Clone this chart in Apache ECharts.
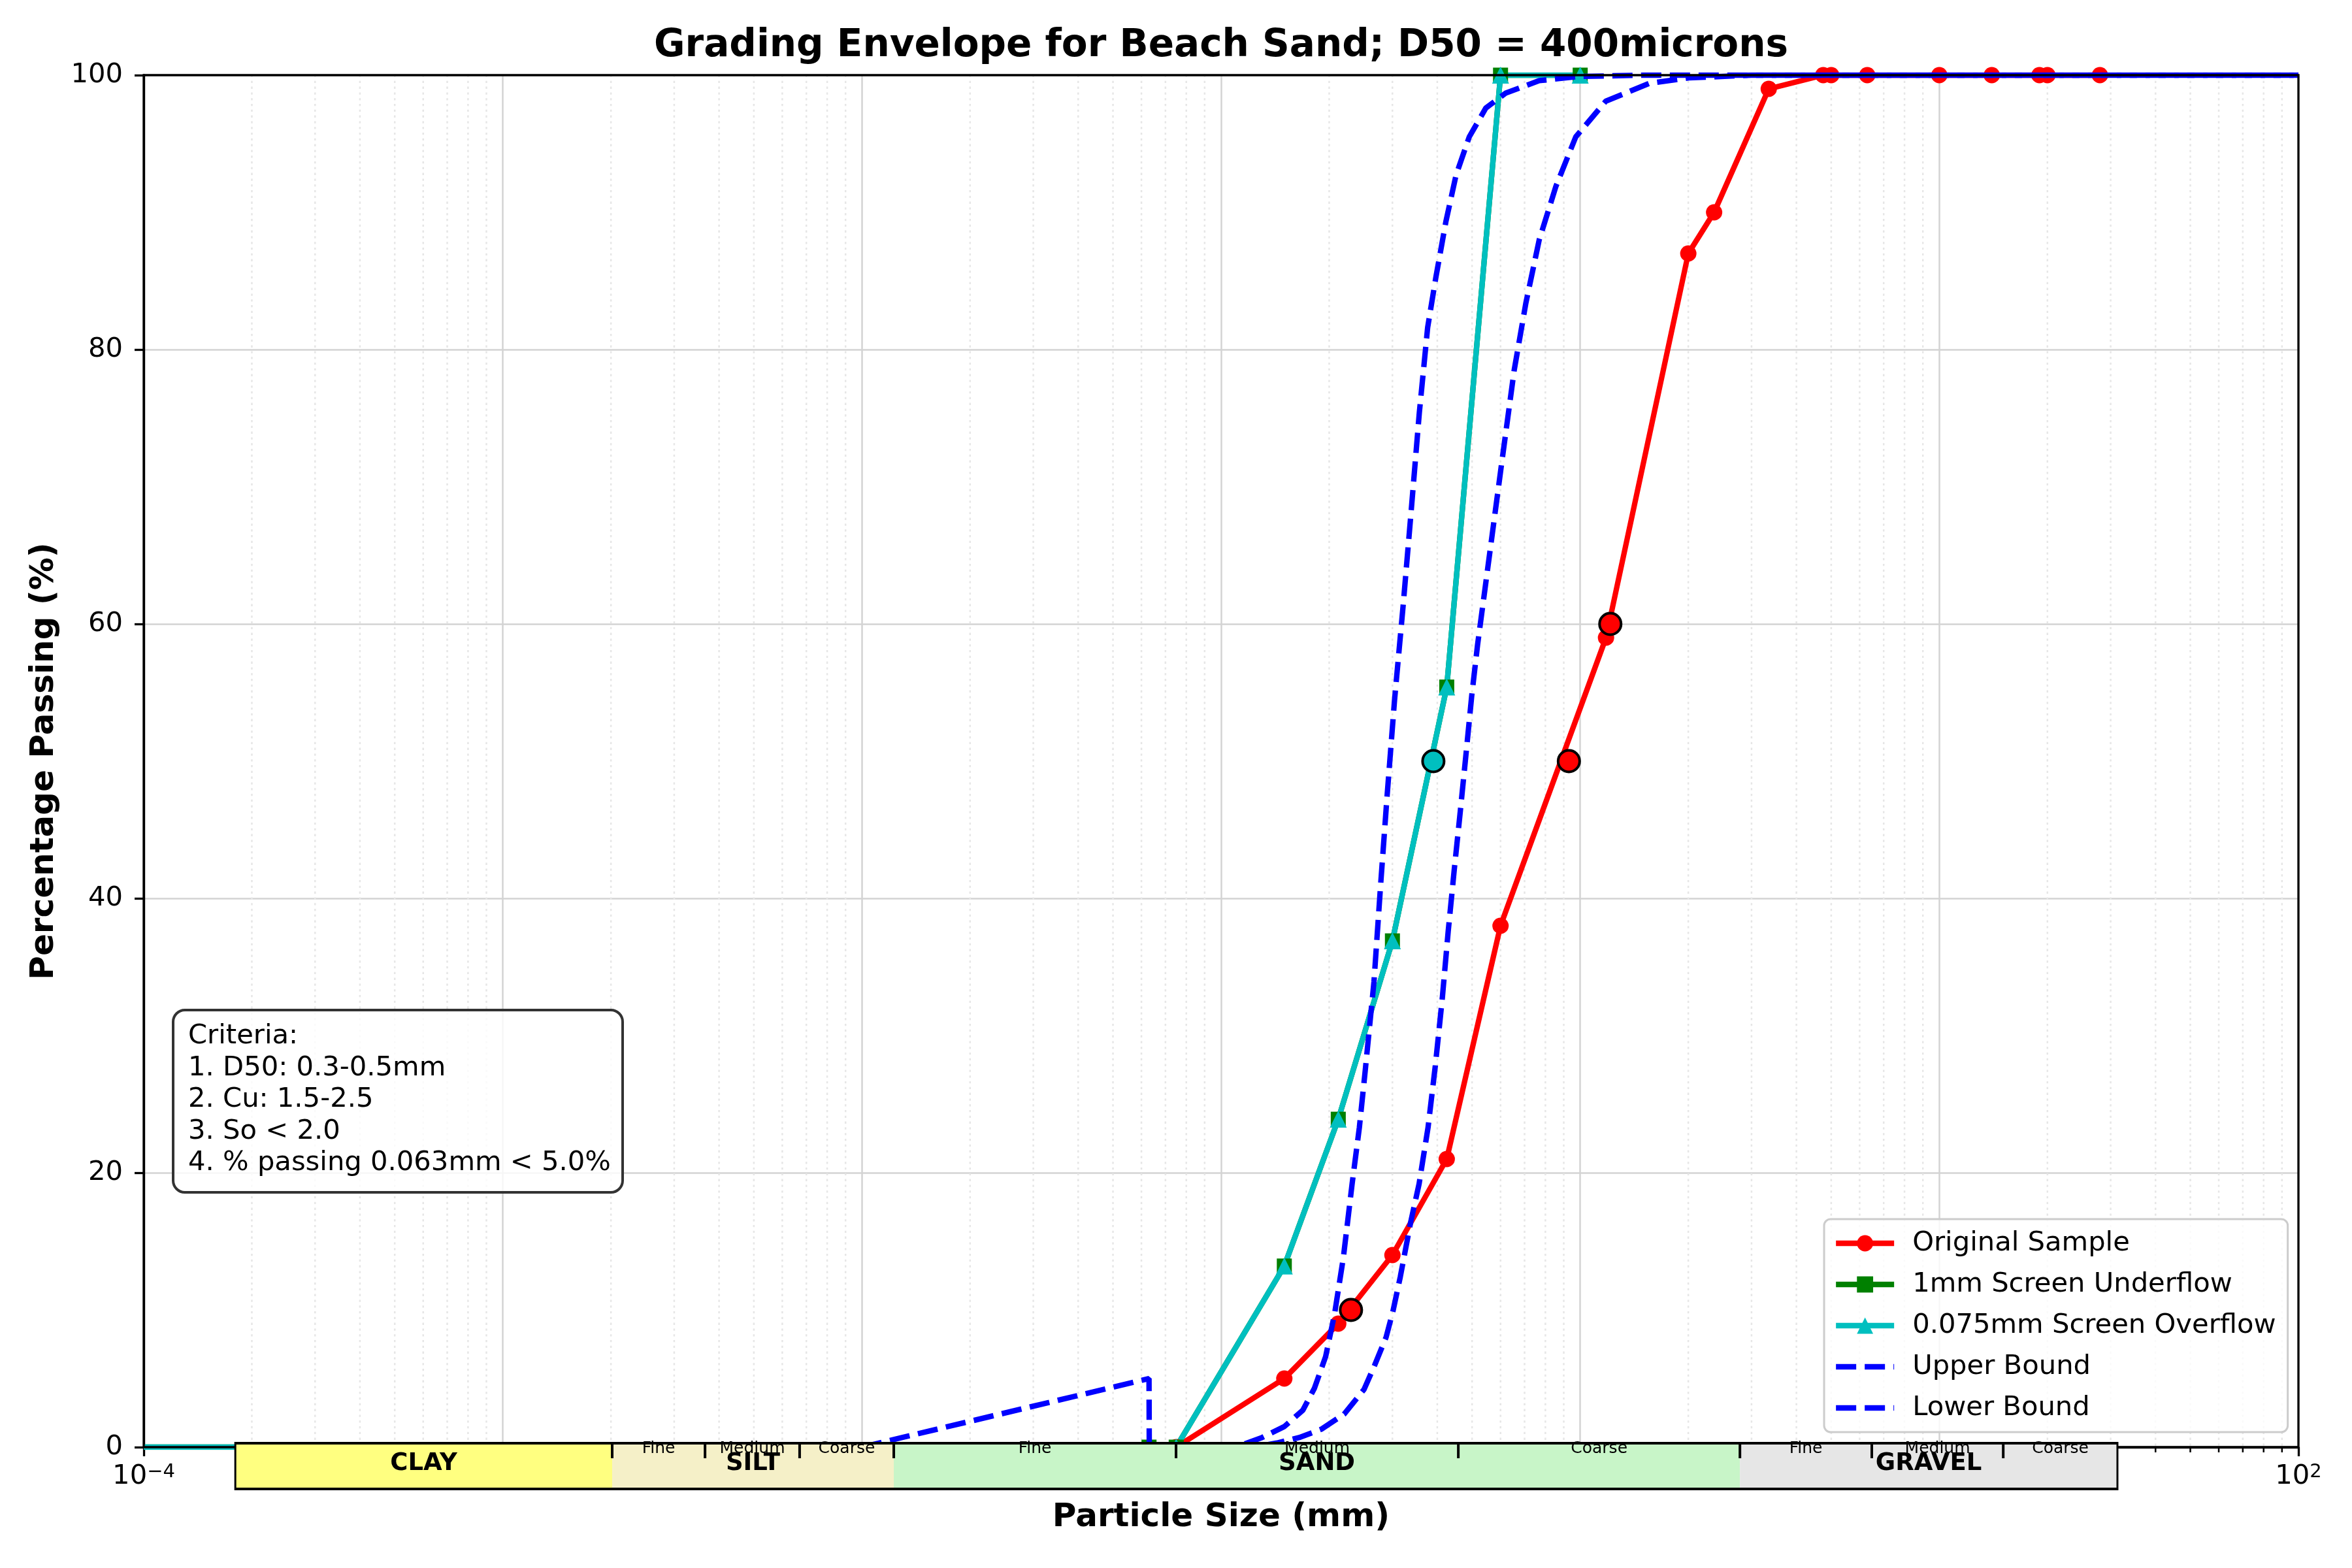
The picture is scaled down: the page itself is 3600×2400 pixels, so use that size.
<!DOCTYPE html>
<html>
<head>
<meta charset="utf-8">
<title>Grading Envelope for Beach Sand</title>
<script src="https://cdn.jsdelivr.net/npm/echarts@6/dist/echarts.min.js"></script>
<style>
  html, body { margin: 0; padding: 0; background: #fff; }
  #chart { width: 3600px; height: 2400px; }
</style>
</head>
<body>
<div id="chart"></div>
<script>
// sieve analysis of the original sample (mm, % passing)
var sieveSizes = [0.075, 0.15, 0.212, 0.3, 0.425, 0.6, 1.18, 2.0, 2.36, 3.35, 4.75, 5.0, 6.3, 10, 14, 19, 20, 28];
var originalPassing = [0, 5, 9, 14, 21, 38, 59, 87, 90, 99, 100, 100, 100, 100, 100, 100, 100, 100];

// screened products
var screenSizes = [0.0001, 0.063, 0.075, 0.15, 0.212, 0.3, 0.425, 0.6, 1.0];
var underflowPassing = [0, 0, 0, 13.2, 23.9, 36.9, 55.4, 100, 100];
var overflowPassing = [0, 0, 0, 13.2, 23.9, 36.9, 55.4, 100, 100];

// envelope
var upperSizes = [0.01, 0.063, 0.0631, 0.11, 0.13, 0.15, 0.169, 0.182, 0.1955, 0.207, 0.219, 0.2317, 0.2427, 0.2519, 0.2665, 0.278,
  0.2898, 0.304, 0.3215, 0.338, 0.3565, 0.376, 0.396, 0.4225, 0.451, 0.491, 0.546, 0.621, 0.769, 0.993, 1.5, 100];
var upperPassing = [0, 5, 0, 0, 0.7, 1.5, 2.7, 4.3, 6.6, 9.7, 13.8, 19.2, 23.3, 27.4, 33.9, 40.9,
  47.4, 54.4, 61.4, 68.1, 75.4, 81.6, 85.2, 89.3, 92.7, 95.5, 97.6, 98.7, 99.6, 99.9, 100, 100];
var lowerSizes = [0.11, 0.13, 0.143, 0.165, 0.19, 0.22, 0.25, 0.267, 0.288, 0.301, 0.3155, 0.3367, 0.356, 0.377, 0.395, 0.413, 0.429,
  0.446, 0.463, 0.48, 0.499, 0.518, 0.605, 0.655, 0.706, 0.769, 0.856, 0.972, 1.178, 1.556, 2.01, 3, 100];
var lowerPassing = [0, 0.1, 0.3, 0.7, 1.3, 2.4, 4.2, 5.9, 8.0, 9.9, 12.4, 16.3, 19.2, 23.3, 27.8, 32.7, 37.6,
  42.1, 46.2, 50.3, 54.8, 58.5, 71.8, 78.5, 83.4, 88.0, 91.9, 95.5, 98.1, 99.4, 99.8, 100, 100];

// D10 / D50 / D60 of the original, D50 of the overflow
var originalDSizes = [0.23, 0.93, 1.213];
var originalDValues = [10, 50, 60];
var overflowDSizes = [0.39];
var overflowDValues = [50];

// axis ticks
var xEndLabels = { '-4': '10{s|\u22124}', '2': '10{s|2}' };
var minorMantissas = [2, 3, 4, 5, 6, 7, 8, 9];
var minorDecades = [0.0001, 0.001, 0.01, 0.1, 1, 10];

var criteriaLines = ['Criteria:', '1. D50: 0.3-0.5mm', '2. Cu: 1.5-2.5', '3. So < 2.0', '4. % passing 0.063mm < 5.0%'];

// soil classification strip, as fractions of the plot width
var soilNames = ['CLAY', 'SILT', 'SAND', 'GRAVEL'];
var soilColors = ['#ffff80', '#f5f0c8', '#c8f5c8', '#e6e6e6'];
var soilEdges = [0.0425, 0.2174, 0.3481, 0.7408, 0.916];
var soilSubEdges = [[], [0.2605, 0.3044], [0.4791, 0.6101], [0.802, 0.863]];
var subNames = ['Fine', 'Medium', 'Coarse'];

var FONT = 'DejaVu Sans';
var GL = 220, GT = 115, GW = 3298, GH = 2100;
var GB = GT + GH;
var DASH = [31, 13];

function pairs(xs, ys) {
  return xs.map(function (x, i) {
    if (x < 0.001) return { value: [x, ys[i]], symbol: 'none' };
    return [x, ys[i]];
  });
}

var minorData = [];
minorDecades.forEach(function (d) {
  minorMantissas.forEach(function (m) { minorData.push([m * d, 0]); });
});

function lineSeries(name, xs, ys, color, symbol, size) {
  return {
    name: name, type: 'line', data: pairs(xs, ys), z: 3,
    symbol: symbol, symbolSize: size, showAllSymbol: true,
    lineStyle: { color: color, width: 8.3 },
    itemStyle: { color: color }
  };
}

function boundSeries(name, xs, ys) {
  return {
    name: name, type: 'line', data: pairs(xs, ys), z: 4, symbol: 'none',
    lineStyle: { color: '#0000ff', width: 8.3, type: DASH, cap: 'butt' },
    itemStyle: { color: '#0000ff' }
  };
}

// soil strip + criteria box + title as graphic elements
var graphic = [];
var stripTop = GB - 8, stripBot = GB + 66;
var sx0 = GL + soilEdges[0] * GW, sx1 = GL + soilEdges[4] * GW;

// frame of the axes (spines drawn above the lines, like matplotlib)
graphic.push({ type: 'rect', z: 90, silent: true, shape: { x: GL, y: GT, width: GW, height: GH },
  style: { fill: null, stroke: '#000', lineWidth: 3.3 } });

soilNames.forEach(function (name, i) {
  var x0 = GL + soilEdges[i] * GW, x1 = GL + soilEdges[i + 1] * GW;
  graphic.push({ type: 'rect', z: 100, shape: { x: x0, y: stripTop, width: x1 - x0, height: stripBot - stripTop },
    style: { fill: soilColors[i] } });
  graphic.push({ type: 'text', z: 102, x: (x0 + x1) / 2, y: GB + 25,
    style: { text: name, font: 'bold 37px "' + FONT + '"', fill: '#000', align: 'center', verticalAlign: 'middle' } });
  if (soilSubEdges[i].length) {
    var cuts = [x0].concat(soilSubEdges[i].map(function (f) { return GL + f * GW; })).concat([x1]);
    for (var k = 0; k < 3; k++) {
      graphic.push({ type: 'text', z: 102, x: (cuts[k] + cuts[k + 1]) / 2, y: GB + 2,
        style: { text: subNames[k], font: '25px "' + FONT + '"', fill: '#000', align: 'center', verticalAlign: 'middle' } });
    }
    soilSubEdges[i].forEach(function (f) {
      var x = GL + f * GW;
      graphic.push({ type: 'line', z: 101, shape: { x1: x, y1: stripTop, x2: x, y2: stripTop + 25 }, style: { stroke: '#000', lineWidth: 4 } });
    });
  }
  if (i > 0) {
    graphic.push({ type: 'line', z: 101, shape: { x1: x0, y1: stripTop, x2: x0, y2: stripTop + 25 }, style: { stroke: '#000', lineWidth: 4 } });
  }
});
graphic.push({ type: 'line', z: 101, shape: { x1: sx0, y1: stripTop + 2, x2: sx1, y2: stripTop + 2 }, style: { stroke: '#000', lineWidth: 4 } });
graphic.push({ type: 'line', z: 101, shape: { x1: sx0, y1: stripBot - 2, x2: sx1, y2: stripBot - 2 }, style: { stroke: '#000', lineWidth: 4 } });
graphic.push({ type: 'line', z: 101, shape: { x1: sx0, y1: stripTop, x2: sx0, y2: stripBot }, style: { stroke: '#000', lineWidth: 3 } });
graphic.push({ type: 'line', z: 101, shape: { x1: sx1, y1: stripTop, x2: sx1, y2: stripBot }, style: { stroke: '#000', lineWidth: 3 } });

graphic.push({ type: 'rect', z: 50, shape: { x: 265, y: 1546, width: 688, height: 279, r: 18 },
  style: { fill: 'rgba(255,255,255,0.8)', stroke: '#333', lineWidth: 4 } });
graphic.push({ type: 'text', z: 51, x: 288, y: 1562,
  style: { text: criteriaLines.join('\n'), font: '41.7px "' + FONT + '"', lineHeight: 48.5, fill: '#000', verticalAlign: 'top' } });

graphic.push({ type: 'text', z: 51, x: GL + GW / 2, y: 71,
  style: { text: 'Grading Envelope for Beach Sand; D50 = 400microns', font: 'bold 58px "' + FONT + '"', fill: '#000',
    align: 'center', verticalAlign: 'middle' } });

var option = {
  animation: false,
  backgroundColor: '#fff',
  textStyle: { fontFamily: FONT },
  grid: { left: GL, top: GT, width: GW, height: GH },
  legend: {
    data: [
      'Original Sample', '1mm Screen Underflow', '0.075mm Screen Overflow',
      { name: 'Upper Bound', itemStyle: { opacity: 0 }, lineStyle: { type: DASH, width: 8.3, cap: 'butt' } },
      { name: 'Lower Bound', itemStyle: { opacity: 0 }, lineStyle: { type: DASH, width: 8.3, cap: 'butt' } }
    ],
    orient: 'vertical', left: 2792, top: 1866,
    padding: [13, 18, 13, 14], itemWidth: 89, itemHeight: 31, itemGap: 15,
    lineStyle: { width: 8.3 },
    backgroundColor: 'rgba(255,255,255,0.8)', borderColor: '#cccccc', borderWidth: 3, borderRadius: 10,
    textStyle: { fontSize: 41.7, color: '#000', lineHeight: 48, padding: [0, 0, 0, 23] }
  },
  xAxis: {
    type: 'log', logBase: 10, min: 0.0001, max: 100, splitNumber: 6,
    name: 'Particle Size (mm)', nameLocation: 'middle', nameGap: 83,
    nameTextStyle: { fontSize: 50, fontWeight: 'bold', color: '#000' },
    axisLine: { lineStyle: { color: '#000', width: 3.3 } },
    axisTick: { length: 14, lineStyle: { color: '#000', width: 3.3 } },
    axisLabel: {
      margin: 24, fontSize: 41.7, color: '#000', showMinLabel: true, showMaxLabel: true,
      formatter: function (v) {
        return xEndLabels[String(Math.round(Math.log10(v)))] || '';
      },
      rich: { s: { fontSize: 29, verticalAlign: 'top', lineHeight: 30, padding: [0, 0, 18, 0] } }
    },
    splitLine: { show: true, lineStyle: { color: '#d3d3d3', width: 2.5 } }
  },
  yAxis: {
    type: 'value', min: 0, max: 100, interval: 20,
    name: 'Percentage Passing (%)', nameLocation: 'middle', nameGap: 127,
    nameTextStyle: { fontSize: 50, fontWeight: 'bold', color: '#000' },
    axisLine: { show: true, lineStyle: { color: '#000', width: 3.3 } },
    axisTick: { show: true, length: 14, lineStyle: { color: '#000', width: 3.3 } },
    axisLabel: { margin: 32, fontSize: 41.7, color: '#000' },
    splitLine: { show: true, lineStyle: { color: '#d3d3d3', width: 2.5 } }
  },
  graphic: graphic,
  series: [
    {
      type: 'custom', z: 1, silent: true, data: minorData,
      renderItem: function (params, api) {
        var x = api.coord([api.value(0), 0])[0];
        var cs = params.coordSys;
        return {
          type: 'group', children: [
            { type: 'line', shape: { x1: x, y1: cs.y, x2: x, y2: cs.y + cs.height },
              style: { stroke: '#e6e6e6', lineWidth: 2.5, lineDash: [3.3, 5.5] } },
            { type: 'line', shape: { x1: x, y1: cs.y + cs.height, x2: x, y2: cs.y + cs.height + 8 },
              style: { stroke: '#000', lineWidth: 2.5 } }
          ]
        };
      }
    },
    lineSeries('Original Sample', sieveSizes, originalPassing, '#ff0000', 'circle', 25),
    lineSeries('1mm Screen Underflow', screenSizes, underflowPassing, '#008000', 'rect', 23),
    lineSeries('0.075mm Screen Overflow', screenSizes, overflowPassing, '#00bfbf', 'triangle', 26),
    boundSeries('Upper Bound', upperSizes, upperPassing),
    boundSeries('Lower Bound', lowerSizes, lowerPassing),
    {
      type: 'scatter', z: 6, data: pairs(originalDSizes, originalDValues), symbolSize: 33,
      itemStyle: { color: '#ff0000', borderColor: '#000', borderWidth: 4, opacity: 1 }
    },
    {
      type: 'scatter', z: 6, data: pairs(overflowDSizes, overflowDValues), symbolSize: 33,
      itemStyle: { color: '#00bfbf', borderColor: '#000', borderWidth: 4, opacity: 1 }
    }
  ]
};

var chart = echarts.init(document.getElementById('chart'));
chart.setOption(option);
</script>
</body>
</html>
